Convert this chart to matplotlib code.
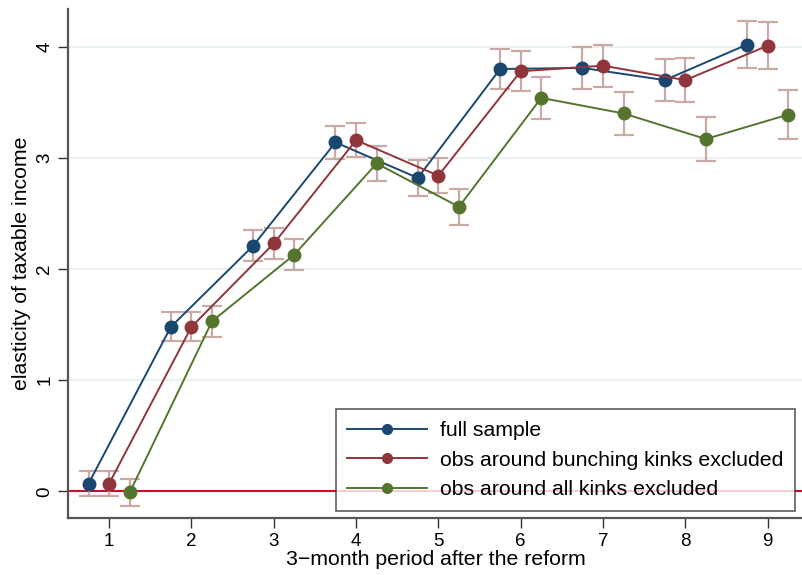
import matplotlib
matplotlib.use("Agg")
import matplotlib.pyplot as plt
import numpy as np

plt.rcParams['font.family'] = ['Liberation Sans', 'DejaVu Sans']

periods = [1, 2, 3, 4, 5, 6, 7, 8, 9]
labels = ["full sample",
          "obs around bunching kinks excluded",
          "obs around all kinks excluded"]

full = [0.07, 1.48, 2.21, 3.14, 2.82, 3.80, 3.81, 3.70, 4.02]
full_err = [0.11, 0.13, 0.14, 0.15, 0.16, 0.18, 0.19, 0.19, 0.21]

bunch = [0.07, 1.48, 2.23, 3.16, 2.84, 3.78, 3.83, 3.70, 4.01]
bunch_err = [0.11, 0.13, 0.14, 0.15, 0.16, 0.18, 0.19, 0.20, 0.21]

allk = [-0.01, 1.53, 2.13, 2.95, 2.56, 3.54, 3.40, 3.17, 3.39]
allk_err = [0.12, 0.14, 0.14, 0.16, 0.16, 0.19, 0.19, 0.20, 0.22]

offsets = [-0.25, 0.0, 0.25]
colors = ['#1a476f', '#90353b', '#55752f']
err_color = '#c9aaa4'

fig = plt.figure(figsize=(8.03, 5.75), dpi=100)
ax = fig.add_axes([68 / 803, 57 / 575, 735 / 803, 509 / 575])

ax.set_xlim(0.5, 9.43)
ax.set_ylim(-0.24, 4.34)

for yv in [1, 2, 3, 4]:
    ax.axhline(yv, color='#eaf2f3', lw=1.5, zorder=0)
ax.axhline(0, color='#c8102e', lw=1.5, zorder=1)

x = np.array(periods, dtype=float)
for vals, errs, off, col, lab in zip([full, bunch, allk],
                                     [full_err, bunch_err, allk_err],
                                     offsets, colors, labels):
    ax.errorbar(x + off, vals, yerr=errs, fmt='none', ecolor=err_color,
                elinewidth=1.6, capsize=7, capthick=1.6, zorder=2)
    ax.plot(x + off, vals, '-o', color=col, lw=1.4, ms=9, label=lab, zorder=3)

ax.set_xticks(periods)
ax.set_yticks([0, 1, 2, 3, 4])
ax.tick_params(axis='both', labelsize=13.5, length=7, width=1, color='#333333')
for t in ax.get_yticklabels():
    t.set_rotation(90)
    t.set_va('center')

for s in ['top', 'right']:
    ax.spines[s].set_visible(False)
for s in ['left', 'bottom']:
    ax.spines[s].set_color('#555555')
    ax.spines[s].set_linewidth(1.6)

ax.set_xlabel("3\u2212month period after the reform", fontsize=15.3, labelpad=0)
ax.set_ylabel("elasticity of taxable income", fontsize=15.3, labelpad=4)

leg = ax.legend(loc='lower right', bbox_to_anchor=(795 / 803, 64 / 575),
                bbox_transform=fig.transFigure, fontsize=15.3, frameon=True,
                fancybox=False, edgecolor='#333333', handlelength=3.75,
                handletextpad=0.6, borderpad=0.55, labelspacing=0.5,
                borderaxespad=0)
leg.get_frame().set_linewidth(1.2)
for h in leg.legend_handles:
    h.set_markersize(7)

fig.savefig("out.png", dpi=100)
